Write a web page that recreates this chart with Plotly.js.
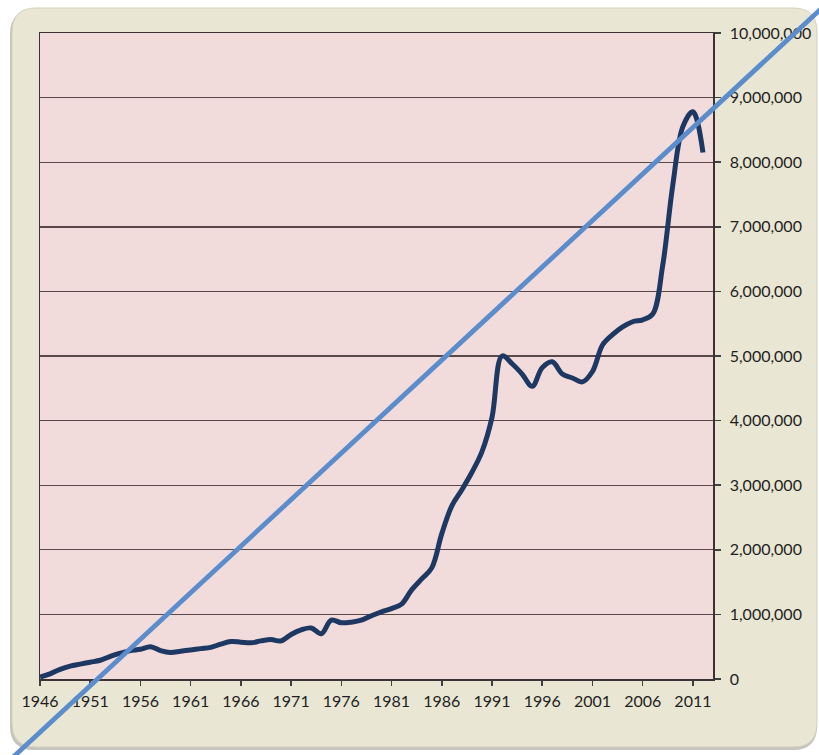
<!DOCTYPE html>
<html>
<head>
<meta charset="utf-8">
<script src="https://cdn.plot.ly/plotly-3.0.1.min.js"></script>
<style>
  html, body { margin: 0; padding: 0; background: #ffffff; }
  #chart { width: 819px; height: 755px; }
</style>
</head>
<body>
<div id="chart"></div>
<script>
// Yearly totals, 1946 onward
const years = [
  1946, 1947, 1948, 1949, 1950, 1951, 1952, 1953, 1954, 1955,
  1956, 1957, 1958, 1959, 1960, 1961, 1962, 1963, 1964, 1965,
  1966, 1967, 1968, 1969, 1970, 1971, 1972, 1973, 1974, 1975,
  1976, 1977, 1978, 1979, 1980, 1981, 1982, 1983, 1984, 1985,
  1986, 1987, 1988, 1989, 1990, 1991, 1992, 1993, 1994, 1995,
  1996, 1997, 1998, 1999, 2000, 2001, 2002, 2003, 2004, 2005,
  2006, 2007, 2008, 2009, 2010, 2011, 2012
];
const totals = [
  30000, 80000, 150000, 200000, 230000, 260000, 290000, 350000, 400000, 440000,
  460000, 500000, 440000, 410000, 430000, 450000, 470000, 490000, 540000, 580000,
  570000, 560000, 590000, 610000, 590000, 690000, 760000, 790000, 700000, 910000,
  870000, 880000, 910000, 980000, 1040000, 1090000, 1160000, 1380000, 1550000, 1720000,
  2250000, 2680000, 2930000, 3200000, 3520000, 4050000, 5000000, 4880000, 4720000, 4530000,
  4820000, 4910000, 4720000, 4660000, 4600000, 4760000, 5170000, 5330000, 5450000, 5530000,
  5560000, 5650000, 6410000, 7650000, 8550000, 8780000, 8150000
];

// Straight reference line, given in the same year / value units
const trendYears = [1942, 2024];
const trendValues = [-1400000, 10410000];

// Axis settings
const xRange = [1946, 2013];
const yRange = [0, 10000000];
const xTickStart = 1946;
const xTickStep = 5;
const yTickStep = 1000000;

// Figure geometry (pixels)
const W = 819, H = 755;
const plotL = 40, plotR = 713, plotT = 33, plotB = 679;
const frame = { l: 12, r: 817, t: 8, b: 747, rad: 24 };

const px = v => v / W;
const py = v => 1 - v / H;

const xDomain = [px(plotL), px(plotR)];
const yDomain = [py(plotB), py(plotT)];

// Extend a range so that an axis spanning the whole figure keeps the same scale
function fullRange(range, dom) {
  const span = (range[1] - range[0]) / (dom[1] - dom[0]);
  return [range[0] - dom[0] * span, range[1] + (1 - dom[1]) * span];
}

function roundRectPath(l, r, t, b, rad) {
  const L = px(l), R = px(r), T = py(t), B = py(b);
  const rx = rad / W, ry = rad / H;
  return `M ${L + rx} ${T} L ${R - rx} ${T} Q ${R} ${T} ${R} ${T - ry} ` +
         `L ${R} ${B + ry} Q ${R} ${B} ${R - rx} ${B} ` +
         `L ${L + rx} ${B} Q ${L} ${B} ${L} ${B + ry} ` +
         `L ${L} ${T - ry} Q ${L} ${T} ${L + rx} ${T} Z`;
}

const tickFont = { family: 'Lato, "Open Sans", "DejaVu Sans", sans-serif', size: 16, color: '#1e1e1e' };

const traces = [
  {
    x: years, y: totals,
    type: 'scatter', mode: 'lines',
    xaxis: 'x', yaxis: 'y',
    line: { color: '#1d3862', width: 5, shape: 'spline', smoothing: 1 },
    hoverinfo: 'skip'
  },
  {
    x: trendYears, y: trendValues,
    type: 'scatter', mode: 'lines',
    xaxis: 'x2', yaxis: 'y2',
    line: { color: '#5b8ccb', width: 4.8 },
    hoverinfo: 'skip'
  }
];

const layout = {
  width: W, height: H,
  margin: { l: 0, r: 0, t: 0, b: 0, pad: 0 },
  paper_bgcolor: '#ffffff',
  plot_bgcolor: 'rgba(0,0,0,0)',
  showlegend: false,
  xaxis: {
    domain: xDomain, range: xRange, anchor: 'y',
    tickmode: 'linear', tick0: xTickStart, dtick: xTickStep,
    ticks: 'outside', ticklen: 5, tickwidth: 1.5, tickcolor: '#404040',
    showline: true, mirror: true, linecolor: '#3c3434', linewidth: 1.5,
    showgrid: false, zeroline: false,
    tickfont: tickFont, ticklabelstandoff: 2
  },
  yaxis: {
    domain: yDomain, range: yRange, anchor: 'x', side: 'right',
    tickmode: 'linear', tick0: 0, dtick: yTickStep, tickformat: ',d',
    ticks: 'outside', ticklen: 6, tickwidth: 1.5, tickcolor: '#404040',
    showline: true, mirror: true, linecolor: '#3c3434', linewidth: 1.5,
    showgrid: true, gridcolor: '#5a4848', gridwidth: 1.4, zeroline: false,
    tickfont: tickFont, ticklabelstandoff: 6
  },
  xaxis2: {
    domain: [0, 1], range: fullRange(xRange, xDomain), anchor: 'y2',
    visible: false, fixedrange: true
  },
  yaxis2: {
    domain: [0, 1], range: fullRange(yRange, yDomain), anchor: 'x2',
    visible: false, fixedrange: true
  },
  shapes: [
    // soft drop shadow under the frame
    {
      type: 'path', xref: 'paper', yref: 'paper', layer: 'below',
      path: roundRectPath(frame.l - 2, frame.r, frame.t + 2, frame.b + 3, frame.rad),
      fillcolor: 'rgba(90,85,70,0.35)', line: { width: 0 }
    },
    // beige chart frame
    {
      type: 'path', xref: 'paper', yref: 'paper', layer: 'below',
      path: roundRectPath(frame.l, frame.r, frame.t, frame.b, frame.rad),
      fillcolor: '#e9e6d3', line: { color: '#d4d0bb', width: 1 }
    },
    // pink plot area
    {
      type: 'rect', xref: 'paper', yref: 'paper', layer: 'below',
      x0: xDomain[0], x1: xDomain[1], y0: yDomain[0], y1: yDomain[1],
      fillcolor: '#f2dcdb', line: { width: 0 }
    }
  ]
};

Plotly.newPlot('chart', traces, layout, { staticPlot: true, displayModeBar: false });
</script>
</body>
</html>
